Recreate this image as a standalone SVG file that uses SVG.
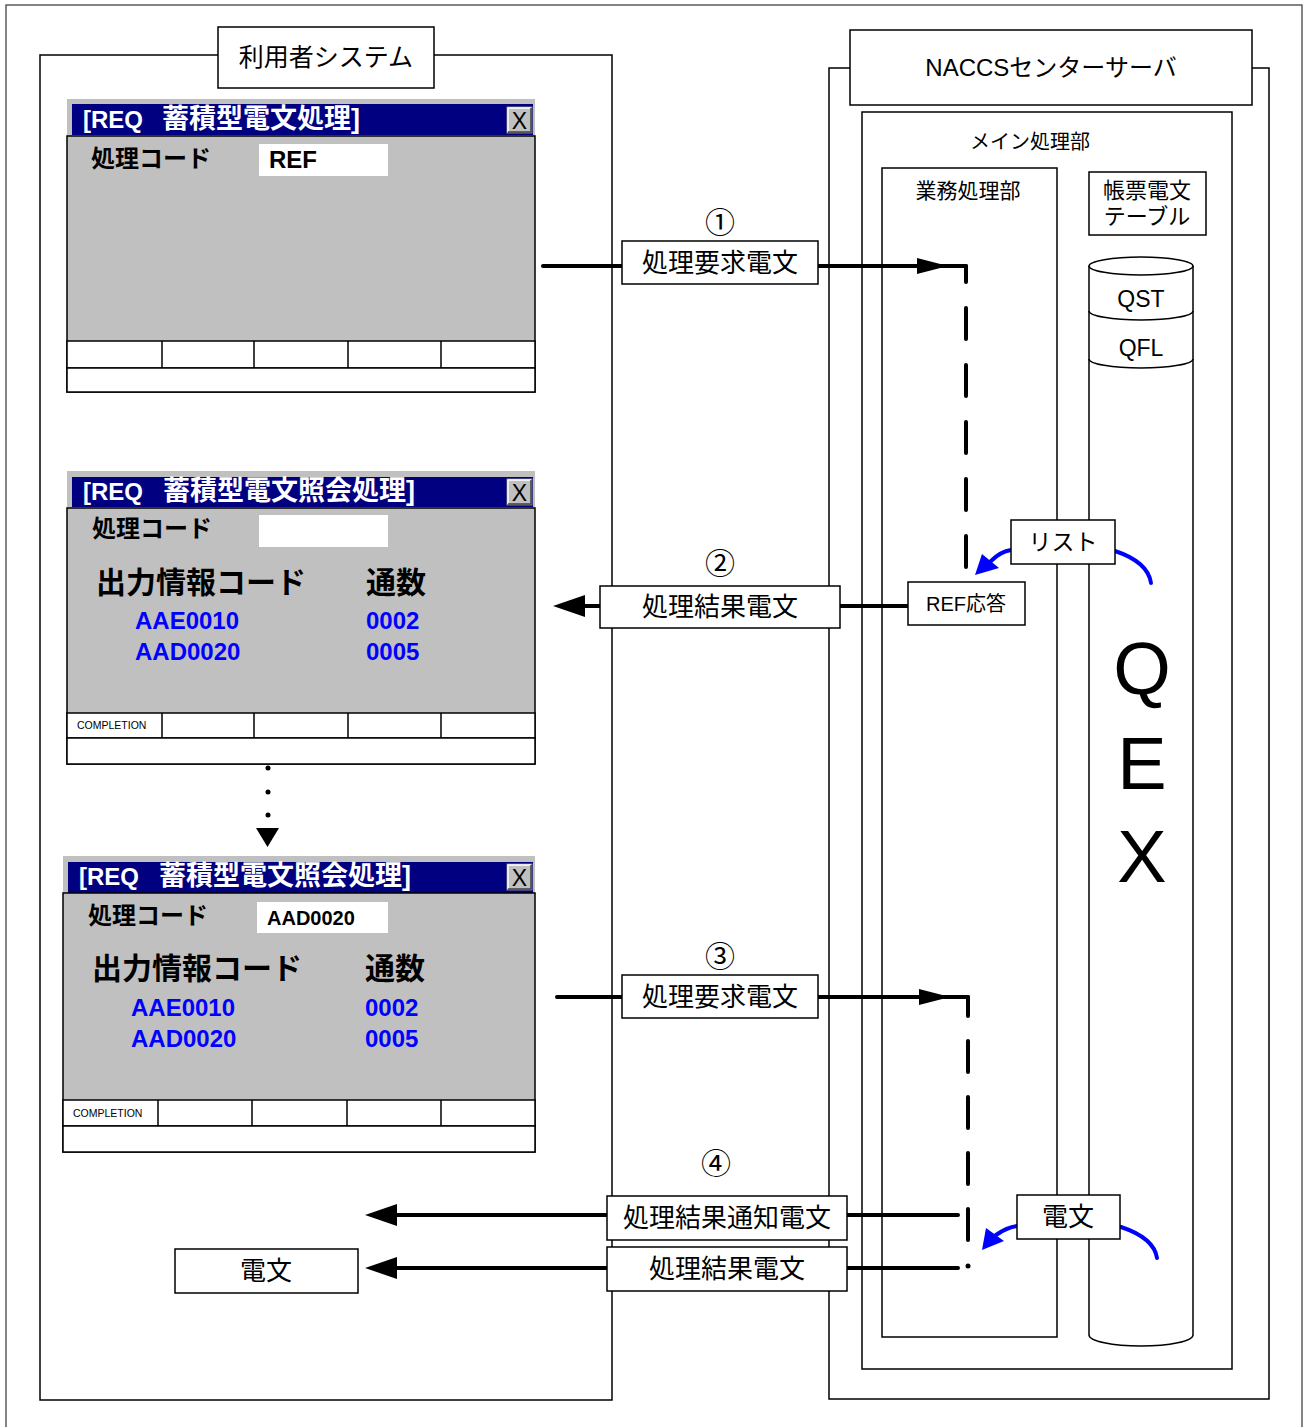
<svg xmlns="http://www.w3.org/2000/svg" xmlns:xlink="http://www.w3.org/1999/xlink" width="1309" height="1427" viewBox="0 0 1309 1427">
<style>
text{font-family:"Liberation Sans","Noto Sans CJK JP",sans-serif;fill:#000}
.num{font-family:"Noto Sans CJK JP",sans-serif;font-size:30px;text-anchor:middle}
.frame{fill:none;stroke:#000;stroke-width:1.5}
.lbl{fill:#fff;stroke:#000;stroke-width:1.5}
.t26{font-size:26px}
.mid{text-anchor:middle}
.b{font-weight:bold}
.gray{fill:#c0c0c0}
.tbar{fill:#000080}
.white{fill:#fff}
.wt{fill:#fff;font-weight:bold}
.blue{fill:#0000ff;font-weight:bold}
.line{stroke:#000;stroke-width:4;fill:none;stroke-linecap:round}
.dash{stroke:#000;stroke-width:4;fill:none;stroke-linecap:round}
.barc{stroke:#0000ff;stroke-width:4;fill:none;stroke-linecap:round}
.cyl{fill:none;stroke:#000;stroke-width:1.5}
</style>
<defs>
<path id="ahR" d="M0,-8 L31,0 L0,8 z"/>
<path id="ahL" d="M0,0 L32,-11 L32,11 z"/>
<g id="xbtn">
<rect x="0" y="0" width="25" height="26" fill="#c0c0c0" stroke="#808080" stroke-width="1"/>
<path d="M1,25 V1 H24" fill="none" stroke="#fff" stroke-width="1.5"/>
<path d="M1,25 H24 V1" fill="none" stroke="#404040" stroke-width="1.5"/>
</g>
</defs>

<g id="outer-frame">
<rect x="6" y="5" width="1296" height="1430" fill="none" stroke="#333" stroke-width="1.2"/>
</g>

<g id="user-system">
<rect class="frame" x="40" y="55" width="572" height="1345"/>
<rect class="lbl" x="218" y="27" width="216" height="61"/>
<text class="mid" x="326" y="66" font-size="25">利用者システム</text>
</g>

<g id="naccs-server">
<rect class="frame" x="829" y="68" width="440" height="1331"/>
<rect class="lbl" x="850" y="30" width="402" height="75"/>
<text class="mid" x="1051" y="76" font-size="24">NACCSセンターサーバ</text>
</g>

<g id="main-processing">
<rect class="frame" x="862" y="112" width="370" height="1257"/>
<text class="mid" x="1030" y="149" font-size="20">メイン処理部</text>
</g>

<g id="business-processing">
<rect class="frame" x="882" y="168" width="175" height="1169"/>
<text class="mid" x="968" y="198" font-size="21">業務処理部</text>
</g>

<g id="form-table">
<rect class="frame" x="1089" y="172" width="117" height="63"/>
<text class="mid" x="1147" y="198" font-size="22">帳票電文</text>
<text class="mid" x="1147" y="224" font-size="22">テーブル</text>
</g>

<g id="qex-cylinder">
<path class="cyl" d="M1089,266 V1335 A52,11 0 0 0 1193,1335 V266"/>
<ellipse class="cyl" cx="1141" cy="266" rx="52" ry="9"/>
<path class="cyl" d="M1089,311 A52,9 0 0 0 1193,311"/>
<path class="cyl" d="M1089,359 A52,9 0 0 0 1193,359"/>
<text class="mid" x="1141" y="307" font-size="23">QST</text>
<text class="mid" x="1141" y="356" font-size="23">QFL</text>
<text class="mid" x="1142" y="694" font-size="74">Q</text>
<text class="mid" x="1142" y="789" font-size="74">E</text>
<text class="mid" x="1142" y="882" font-size="74">X</text>
</g>

<g id="window-1">
<rect class="gray" x="67" y="99" width="468" height="242"/>
<rect class="tbar" x="72" y="104" width="461" height="31"/>
<text class="wt" x="83" y="128" font-size="24">[REQ<tspan x="162" font-size="27">蓄積型電文処理]</tspan></text>
<use xlink:href="#xbtn" x="507" y="107"/>
<text class="mid" x="519.5" y="129" font-size="23">X</text>
<rect class="frame" x="67" y="136" width="468" height="256"/>
<text class="b" x="91" y="167" font-size="24">処理コード</text>
<rect class="white" x="259" y="144" width="129" height="32"/>
<text class="b" x="269" y="168" font-size="24">REF</text>
<rect class="lbl" x="67" y="341" width="468" height="27"/>
<rect class="lbl" x="67" y="368" width="468" height="24"/>
<path class="frame" d="M162,341 V368 M254,341 V368 M348,341 V368 M441,341 V368"/>
</g>

<g id="window-2">
<rect class="gray" x="67" y="471" width="468" height="242"/>
<rect class="tbar" x="72" y="477" width="461" height="30"/>
<text class="wt" x="83" y="500" font-size="24">[REQ<tspan x="163" font-size="27">蓄積型電文照会処理]</tspan></text>
<use xlink:href="#xbtn" x="507" y="479"/>
<text class="mid" x="519.5" y="501" font-size="23">X</text>
<rect class="frame" x="67" y="508" width="468" height="256"/>
<text class="b" x="92" y="537" font-size="24">処理コード</text>
<rect class="white" x="259" y="515" width="129" height="32"/>
<text class="b" x="96" y="593" font-size="30">出力情報コード</text>
<text class="b" x="366" y="593" font-size="30">通数</text>
<text class="blue" x="135" y="629" font-size="24">AAE0010</text>
<text class="blue" x="366" y="629" font-size="24">0002</text>
<text class="blue" x="135" y="660" font-size="24">AAD0020</text>
<text class="blue" x="366" y="660" font-size="24">0005</text>
<rect class="lbl" x="67" y="713" width="468" height="25"/>
<rect class="lbl" x="67" y="738" width="468" height="26"/>
<path class="frame" d="M162,713 V738 M254,713 V738 M348,713 V738 M441,713 V738"/>
<text x="77" y="729" font-size="10.5">COMPLETION</text>
</g>

<g id="continuation">
<circle cx="268" cy="768" r="2.5"/>
<circle cx="268" cy="792" r="2.5"/>
<circle cx="268" cy="815" r="2.5"/>
<path d="M256,828 H279 L267.5,847 z"/>
</g>

<g id="window-3">
<rect class="gray" x="63" y="856" width="472" height="244"/>
<rect class="tbar" x="68" y="862" width="465" height="31"/>
<text class="wt" x="79" y="885" font-size="24">[REQ<tspan x="159" font-size="27">蓄積型電文照会処理]</tspan></text>
<use xlink:href="#xbtn" x="507" y="864"/>
<text class="mid" x="519.5" y="886" font-size="23">X</text>
<rect class="frame" x="63" y="893" width="472" height="259"/>
<text class="b" x="88" y="924" font-size="24">処理コード</text>
<rect class="white" x="257" y="902" width="131" height="31"/>
<text class="b" x="267" y="925" font-size="20">AAD0020</text>
<text class="b" x="92" y="979" font-size="30">出力情報コード</text>
<text class="b" x="365" y="979" font-size="30">通数</text>
<text class="blue" x="131" y="1016" font-size="24">AAE0010</text>
<text class="blue" x="365" y="1016" font-size="24">0002</text>
<text class="blue" x="131" y="1047" font-size="24">AAD0020</text>
<text class="blue" x="365" y="1047" font-size="24">0005</text>
<rect class="lbl" x="63" y="1100" width="472" height="26"/>
<rect class="lbl" x="63" y="1126" width="472" height="26"/>
<path class="frame" d="M158,1100 V1126 M252,1100 V1126 M347,1100 V1126 M441,1100 V1126"/>
<text x="73" y="1117" font-size="10.5">COMPLETION</text>
</g>

<g id="connectors">
<path class="line" d="M543,266 H966"/>
<use xlink:href="#ahR" x="917" y="266"/>
<path class="dash" d="M966,567 V266" stroke-dasharray="31 26"/>
<path class="line" d="M840,606 H908"/>
<path class="line" d="M585,606 H600"/>
<use xlink:href="#ahL" x="553" y="606"/>
<path class="line" d="M557,997 H968"/>
<use xlink:href="#ahR" x="919" y="997"/>
<path class="dash" d="M968,1240 V997" stroke-dasharray="31 25"/>
<circle cx="968" cy="1266" r="2.5"/>
<path class="line" d="M397,1215 H958"/>
<use xlink:href="#ahL" x="365" y="1215"/>
<path class="line" d="M397,1268 H958"/>
<use xlink:href="#ahL" x="365" y="1268"/>
<path class="barc" d="M1011,550 C1004,551 997,555 991,561"/>
<path d="M975,575 L982,554 L999,568 z" fill="#0000ff"/>
<path class="barc" d="M1115,551 Q1148,562 1151,583"/>
<path class="barc" d="M1017,1226 C1010,1227 1003,1230 996,1235"/>
<path d="M982,1250 L986,1228 L1004,1241 z" fill="#0000ff"/>
<path class="barc" d="M1121,1227 Q1154,1238 1157,1258"/>
</g>

<g id="step-1">
<text class="num" x="720" y="233">①</text>
<rect class="lbl" x="622" y="241" width="196" height="43"/>
<text class="mid t26" x="720" y="272">処理要求電文</text>
</g>

<g id="step-2">
<text class="num" x="720" y="574">②</text>
<rect class="lbl" x="600" y="586" width="240" height="42"/>
<text class="mid t26" x="720" y="616">処理結果電文</text>
</g>

<g id="ref-response">
<rect class="lbl" x="908" y="582" width="117" height="43"/>
<text class="mid" x="966" y="611" font-size="20">REF応答</text>
</g>

<g id="list">
<rect class="lbl" x="1011" y="520" width="104" height="44"/>
<text class="mid" x="1063" y="550" font-size="23">リスト</text>
</g>

<g id="step-3">
<text class="num" x="720" y="967">③</text>
<rect class="lbl" x="622" y="975" width="196" height="43"/>
<text class="mid t26" x="720" y="1006">処理要求電文</text>
</g>

<g id="step-4">
<text class="num" x="716" y="1174">④</text>
<rect class="lbl" x="607" y="1196" width="240" height="44"/>
<text class="mid t26" x="727" y="1227">処理結果通知電文</text>
<rect class="lbl" x="607" y="1247" width="240" height="44"/>
<text class="mid t26" x="727" y="1278">処理結果電文</text>
</g>

<g id="message-left">
<rect class="lbl" x="175" y="1249" width="183" height="44"/>
<text class="mid t26" x="266" y="1280">電文</text>
</g>

<g id="message-right">
<rect class="lbl" x="1017" y="1195" width="103" height="44"/>
<text class="mid t26" x="1068" y="1226">電文</text>
</g>
</svg>
